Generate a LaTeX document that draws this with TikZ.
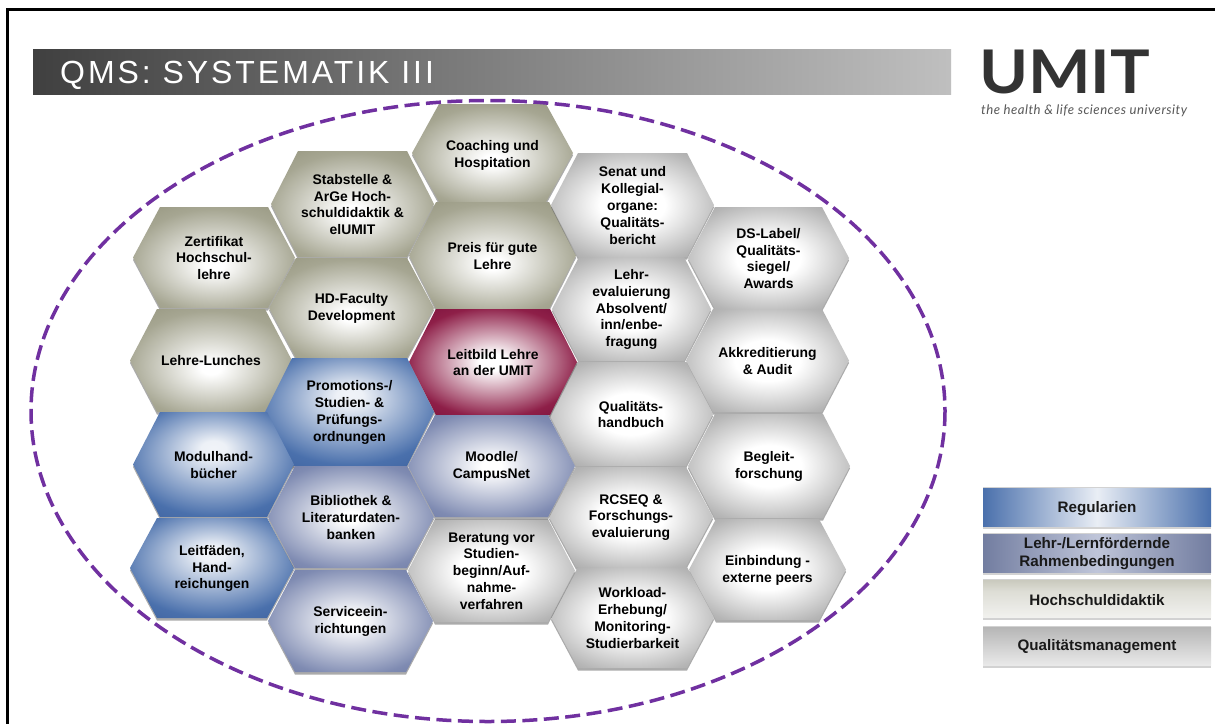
\documentclass[tikz,border=0pt]{standalone}
\usepackage{fontspec}
\setmainfont{Liberation Sans}
\newfontfamily\logofont{Lato}
\definecolor{csand}{HTML}{A6A692}
\definecolor{csandd}{HTML}{9A9A84}
\definecolor{cblue}{HTML}{4A70AC}
\definecolor{cblued}{HTML}{3F63A0}
\definecolor{cperi}{HTML}{7F8BB2}
\definecolor{cperid}{HTML}{737FA8}
\definecolor{cgray}{HTML}{B6B6B6}
\definecolor{cgrayd}{HTML}{A8A8A8}
\definecolor{cmar}{HTML}{8E1F48}
\definecolor{cmard}{HTML}{801540}
\definecolor{cpurple}{HTML}{7030A0}
\pgfdeclareradialshading{hexsand}{\pgfpoint{0bp}{-4bp}}{color(0bp)=(white); color(3bp)=(white); color(26bp)=(csand); color(33bp)=(csandd); color(50bp)=(csandd)}
\pgfdeclareradialshading{hexblue}{\pgfpoint{0bp}{8bp}}{color(0bp)=(white!92!cblue); color(4bp)=(white!90!cblue); color(28bp)=(cblue); color(36bp)=(cblued); color(50bp)=(cblued)}
\pgfdeclareradialshading{hexperi}{\pgfpoint{0bp}{0bp}}{color(0bp)=(white); color(3bp)=(white); color(27bp)=(cperi); color(33bp)=(cperid); color(50bp)=(cperid)}
\pgfdeclareradialshading{hexgray}{\pgfpoint{0bp}{0bp}}{color(0bp)=(white); color(10bp)=(white); color(28bp)=(cgray); color(33bp)=(cgrayd); color(50bp)=(cgrayd)}
\pgfdeclareradialshading{hexmar}{\pgfpoint{0bp}{0bp}}{color(0bp)=(white); color(4bp)=(white); color(26bp)=(cmar); color(32bp)=(cmard); color(50bp)=(cmard)}
\pgfdeclarehorizontalshading{barblue}{100bp}{color(0bp)=(cblue); color(25bp)=(cblue); color(50bp)=(white!88!cblue); color(75bp)=(cblue); color(100bp)=(cblue)}
\pgfdeclarehorizontalshading{barperi}{100bp}{color(0bp)=(cperi!90!black); color(25bp)=(cperi!90!black); color(50bp)=(white!50!cperi); color(75bp)=(cperi!90!black); color(100bp)=(cperi!90!black)}
\pgfdeclareverticalshading{barsand}{100bp}{color(0bp)=(white!85!csand); color(25bp)=(white!85!csand); color(60bp)=(white!62!csand); color(75bp)=(white!40!csand); color(100bp)=(white!40!csand)}
\pgfdeclareverticalshading{bargray}{100bp}{color(0bp)=(white!88!cgray); color(25bp)=(white!70!cgray); color(75bp)=(cgray); color(100bp)=(cgray)}
\pgfdeclarehorizontalshading{titlebar}{100bp}{color(0bp)=(black!75); color(25bp)=(black!75); color(75bp)=(black!25); color(100bp)=(black!25)}
\tikzset{
  hexlabel/.style={align=center,font=\fontsize{13.9}{16.8}\selectfont\bfseries,text=black,inner sep=0pt},
  legendlabel/.style={align=center,font=\fontsize{15.2}{18}\selectfont\bfseries,text=black!90,inner sep=0pt},
  dropshadow/.style={fill=black!60,opacity=.55},
  framebar/.style={fill=black}
}
\newcommand{\hexa}[8][0.5]{%
  \fill[dropshadow] ({#2},{(#4+#5)/2+2.5}) -- ({#2+27},{#4+2.5}) -- ({#3-27},{#4+2.5}) -- ({#3},{(#4+#5)/2+2.5}) -- ({#3-27},{#5+2.5}) -- ({#2+27},{#5+2.5}) -- cycle;
  \shade[shading=#6] ({#2},{(#4+#5)/2}) -- ({#2+27},{#4}) -- ({#3-27},{#4}) -- ({#3},{(#4+#5)/2}) -- ({#3-27},{#5}) -- ({#2+27},{#5}) -- cycle;
  \node[hexlabel] (#7) at ({(#2+#3)/2},{(#4+#5)/2+#1}) {#8};
}
\newcommand{\legendbar}[5]{%
  \fill[black!35,opacity=.5] (983,{#1-1}) rectangle (1211,{#2+2.5});
  \shade[shading=#3] (983,#1) rectangle (1211,#2);
  \node[legendlabel] (#4) at (1097,{(#1+#2)/2+1}) {#5};
}
\begin{document}
\begin{tikzpicture}[x=1pt,y=-1pt]
\useasboundingbox (0,0) rectangle (1215,724);
\fill[white] (0,0) rectangle (1215,724);
\fill[framebar] (6,8) rectangle (1215,10.5);
\fill[framebar] (6,8) rectangle (8.5,724);
% title
\shade[shading=titlebar] (33,49) rectangle (951,94);
\node[anchor=base west,inner sep=0pt,text=white] (title) at (60,83) {\fontsize{32}{35}\selectfont\addfontfeatures{LetterSpace=9.2}QMS: SYSTEMATIK III};
% logo
\node[inner sep=0pt,anchor=north west,text=black!80] (logo) at (979,50) {\resizebox{171pt}{43.5pt}{\logofont\bfseries UMIT}};
\node[inner sep=0pt,anchor=base west,text=black!65] (claim) at (981,114) {\fontsize{13.2}{14}\selectfont\logofont\itshape\addfontfeatures{LetterSpace=3.5}the health \& life sciences university};
% hexagons
\hexa[2]{412}{573}{104}{202}{hexsand}{h1}{Coaching und\\Hospitation}
\hexa{271}{434}{151}{257}{hexsand}{h2}{Stabstelle \&\\ArGe Hoch-\\schuldidaktik \&\\elUMIT}
\hexa{133}{295}{207}{308}{hexsand}{h3}{Zertifikat\\Hochschul-\\lehre}
\hexa{409}{576}{202}{309}{hexsand}{h4}{Preis für gute\\Lehre}
\hexa{269}{434}{258}{358}{hexsand}{h5}{HD-Faculty\\Development}
\hexa{130}{292}{309}{412}{hexsand}{h6}{Lehre-Lunches}
\hexa{551}{714}{153}{257}{hexgray}{g1}{Senat und\\Kollegial-\\organe:\\Qualitäts-\\bericht}
\hexa{552}{711}{257}{361}{hexgray}{g2}{Lehr-\\evaluierung\\Absolvent/\\inn/enbe-\\fragung}
\hexa{688}{849}{207}{309}{hexgray}{g3}{DS-Label/\\Qualitäts-\\siegel/\\Awards}
\hexa{686}{849}{309}{412}{hexgray}{g4}{Akkreditierung\\\& Audit}
\hexa{549}{713}{362}{466}{hexgray}{g5}{Qualitäts-\\handbuch}
\hexa{688}{850}{414}{518}{hexgray}{g6}{Begleit-\\forschung}
\hexa{549}{713}{467}{567}{hexgray}{g7}{RCSEQ \&\\Forschungs-\\evaluierung}
\hexa{689}{846}{519}{620}{hexgray}{g8}{Einbindung -\\externe peers}
\hexa{551}{714}{567}{668}{hexgray}{g9}{Workload-\\Erhebung/\\Monitoring-\\Studierbarkeit}
\hexa{408}{575}{519}{622}{hexgray}{g10}{Beratung vor\\Studien-\\beginn/Auf-\\nahme-\\verfahren}
\hexa{409}{577}{309}{415}{hexmar}{m1}{Leitbild Lehre\\an der UMIT}
\hexa{265}{434}{358}{466}{hexblue}{b1}{Promotions-/\\Studien- \&\\Prüfungs-\\ordnungen}
\hexa{133}{294}{412}{517}{hexblue}{b2}{Modulhand-\\bücher}
\hexa{130}{294}{518}{618}{hexblue}{b3}{Leitfäden,\\Hand-\\reichungen}
\hexa{408}{575}{415}{517}{hexperi}{p1}{Moodle/\\CampusNet}
\hexa{268}{434}{466}{568}{hexperi}{p2}{Bibliothek \&\\Literaturdaten-\\banken}
\hexa{268}{433}{570}{672}{hexperi}{p3}{Serviceein-\\richtungen}
% legend
\legendbar{488}{526.5}{barblue}{l1}{Regularien}
\legendbar{534}{572}{barperi}{l2}{Lehr-/Lernfördernde\\Rahmenbedingungen}
\legendbar{580}{617.5}{barsand}{l3}{Hochschuldidaktik}
\legendbar{627}{665}{bargray}{l4}{Qualitätsmanagement}
% dashed ellipse
\draw[cpurple,line width=3.5pt,dash pattern=on 15pt off 6.5pt] (488,411) ellipse [x radius=457,y radius=310.5];
\end{tikzpicture}
\end{document}
